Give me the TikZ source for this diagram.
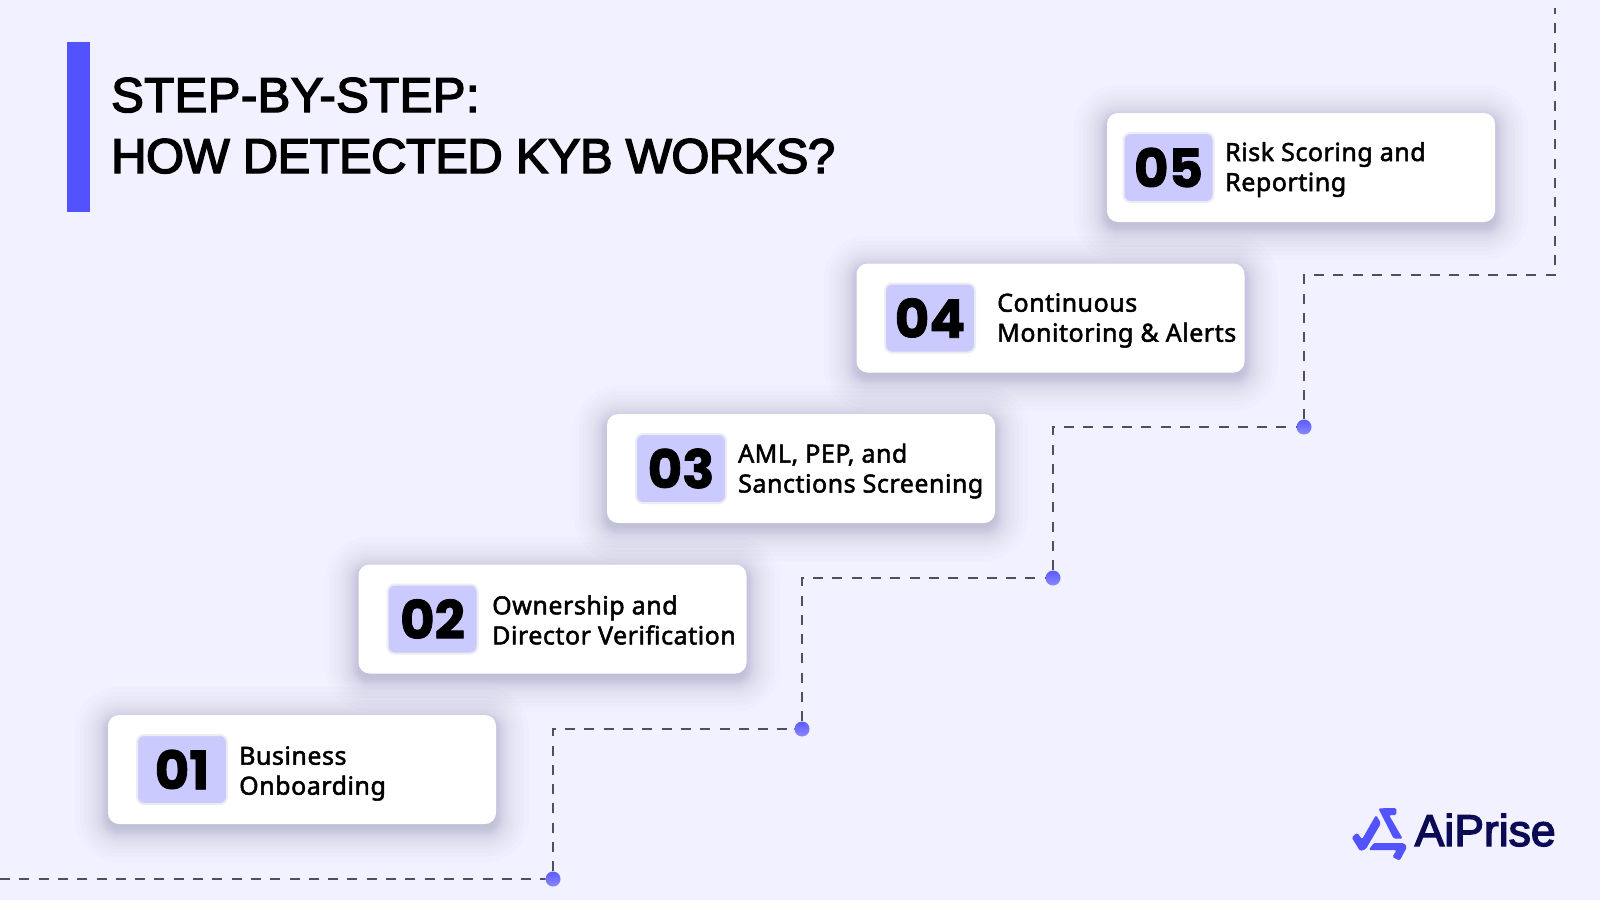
\documentclass[tikz,border=0pt]{standalone}
\usepackage{fontspec}
\setmainfont{Liberation Sans}
\newfontfamily\titlefont[FakeBold=3,LetterSpace=-1.2]{Liberation Sans}
\newfontfamily\titlewide[FakeBold=3,LetterSpace=0.9]{Liberation Sans}
\newfontfamily\labelfont[FakeBold=2,LetterSpace=2.1]{Noto Sans}
\newfontfamily\logofont[FakeBold=3]{Liberation Sans}
\newfontfamily\numfont[FakeBold=1.5]{Poppins}
\definecolor{pagebg}{HTML}{F2F1FF}
\definecolor{barblue}{HTML}{5252FF}
\definecolor{badgefill}{HTML}{CACAFF}
\definecolor{badgeline}{HTML}{ECECF4}
\definecolor{dotdark}{HTML}{5C5CFF}
\definecolor{dotlight}{HTML}{8888FF}
\definecolor{dashgray}{HTML}{50505A}
\definecolor{lognavy}{HTML}{0B0B55}
\definecolor{shadownavy}{HTML}{20204A}
\tikzset{
  cardbox/.style={fill=white,rounded corners=11pt,minimum width=388pt,minimum height=109pt,inner sep=0pt},
  cardshade/.style={fill=shadownavy,opacity=0.0105},
  badgebox/.style={fill=badgefill,draw=badgeline,line width=2pt,rounded corners=7pt,minimum width=90pt,
    minimum height=69pt,inner sep=0pt,font=\numfont\bfseries\fontsize{53}{53}\selectfont},
  steplabel/.style={anchor=west,align=left,inner sep=0pt,font=\labelfont\fontsize{25}{30}\selectfont},
  dotmark/.style={circle,top color=dotdark,bottom color=dotlight,minimum size=15pt,inner sep=0pt},
  dashline/.style={draw=dashgray,line width=1.9pt,dash pattern=on 10pt off 9.3pt}
}
\begin{document}
\begin{tikzpicture}[x=1pt,y=-1pt]
  \useasboundingbox (0,0) rectangle (1600,900);
  \fill[pagebg] (0,0) rectangle (1600,900);
  \fill[barblue] (67,42) rectangle (90,212);
  \node (title) [anchor=base west,align=left,inner sep=0pt,font=\titlefont\fontsize{49}{61}\selectfont]
    at (111,173) {{\titlewide STEP-BY-STEP:}\\HOW DETECTED KYB WORKS?};
  % the stairs
  \coordinate (start) at (0,879);
  \coordinate (turn) at (1555,275);
  \coordinate (topend) at (1555,8);
  \foreach \n/\x/\y in {1/553/879,2/802/729,3/1053/578,4/1304/427}
    \node (dot\n) [dotmark] at (\x,\y) {};
  \draw[dashline] (start) -- (dot1);
  \draw[dashline] (dot1) |- (dot2);
  \draw[dashline] (dot2) |- (dot3);
  \draw[dashline] (dot3) |- (dot4);
  \draw[dashline] (dot4) |- (turn) -- (topend);
  % the cards
  \foreach \n/\x/\y/\bx/\lx/\ly/\first/\second in {
    1/302/769.5/182/239/773.5/Business/Onboarding,
    2/552.5/619/432.5/492/620/Ownership and/Director Verification,
    3/801/468.5/681/738/471/{AML, PEP, and}/Sanctions Screening,
    4/1050.5/318/930/997/320.5/Continuous/Monitoring \& Alerts,
    5/1301/167.5/1168.5/1225/169.5/Risk Scoring and/Reporting}
  {
    \foreach \s in {-2,0,1,2,3,4,5,6,7,8,10,12,14,17,20,24,28,33}
      \fill[cardshade,rounded corners=11pt+\s pt] (\x-194-\s,\y-54.5-\s+5) rectangle (\x+194+\s,\y+54.5+\s+5);
    \node (card\n) [cardbox] at (\x,\y) {};
    \node (badge\n) [badgebox] at (\bx,\y) {\raisebox{-2pt}{0\n}};
    \node (label\n) [steplabel] at (\lx,\ly) {\first\\\second};
  }
  % logo
  \begin{scope}[shift={(1300,780)},x=0.3333pt,y=-0.3333pt]
    \fill[barblue,rounded corners=1.5pt] (155,172) -- (172,158) -- (186,178) -- (228,105) -- (243,130)
      -- (197,208) -- (180,213) -- cycle;
    \fill[barblue,rounded corners=1.5pt] (235,85) -- (289,84) -- (289,105) -- (267,105) -- (308,176)
      -- (281,176) -- cycle;
    \fill[barblue,rounded corners=1.5pt] (206,210) -- (221,189) -- (312,189) -- (321,201) -- (299,242)
      -- (277,231) -- (290,210) -- cycle;
  \end{scope}
  \node (logotext) [anchor=base west,inner sep=0pt,text=lognavy,font=\logofont\fontsize{44.5}{44.5}\selectfont]
    at (1414.5,846) {AiPrise};
\end{tikzpicture}
\end{document}
